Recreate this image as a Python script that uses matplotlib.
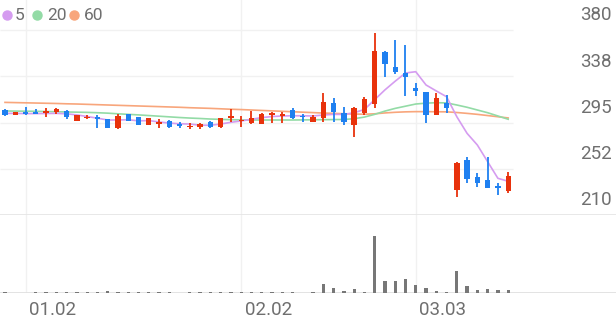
import matplotlib
matplotlib.use('Agg')
import matplotlib.pyplot as plt
from matplotlib.lines import Line2D
import numpy as np

# daily candles (open, high, low, close)
opens = [306.5, 302.2, 304.4, 304.4, 303.5, 304.4, 305.6, 296.4, 299.0, 300.0,
         298.2, 289.7, 302.5, 300.3, 292.7, 293.3, 296.4, 293.6, 290.9, 290.6,
         295.8, 291.1, 298.9, 296.4, 294.3, 293.9, 301.9, 301.2, 306.5, 301.2,
         295.8, 299.4, 313.2, 303.4, 292.7, 303.4, 312.0, 360.0, 346.3, 340.2,
         326.4, 323.3, 301.9, 313.2, 233.0, 260.5, 244.6, 242.2, 236.6, 232.3]
highs = [307.1, 304.8, 309.5, 307.4, 308.0, 308.0, 306.5, 302.0, 301.9, 301.9,
         298.5, 302.5, 303.0, 300.5, 299.2, 298.2, 297.3, 295.2, 294.3, 294.3,
         296.7, 299.5, 307.4, 301.0, 305.6, 303.4, 305.0, 304.3, 308.0, 302.5,
         301.9, 321.8, 317.8, 309.5, 309.5, 318.7, 377.0, 360.7, 370.8, 366.2,
         331.0, 323.5, 321.8, 320.3, 259.0, 263.6, 248.9, 263.6, 239.1, 249.8]
lows = [301.2, 302.0, 302.0, 302.4, 299.8, 302.8, 298.2, 296.0, 298.3, 289.7,
        289.5, 288.7, 296.0, 292.5, 292.5, 289.7, 289.7, 289.7, 288.7, 288.7,
        290.3, 289.7, 295.8, 291.1, 294.0, 293.3, 294.3, 294.3, 297.9, 295.8,
        295.2, 295.8, 295.8, 292.7, 282.0, 301.9, 308.3, 337.0, 339.6, 319.3,
        319.3, 294.8, 301.5, 303.4, 226.8, 239.7, 236.0, 234.5, 228.4, 229.9]
closes = [302.0, 304.4, 302.5, 302.6, 305.6, 307.1, 299.8, 301.9, 300.0, 298.0,
          289.7, 301.2, 296.4, 292.7, 298.9, 295.2, 290.6, 291.8, 291.8, 293.6,
          291.1, 298.9, 301.0, 297.3, 298.9, 302.5, 304.0, 302.5, 299.4, 299.8,
          300.3, 314.1, 304.4, 295.8, 308.0, 316.6, 360.7, 348.5, 341.1, 336.5,
          324.2, 301.9, 317.2, 308.6, 257.5, 243.0, 239.1, 235.1, 235.1, 246.1]
volumes = [3, 1.5, 1.5, 2, 2, 2, 2, 2, 2, 4,
           6, 4, 3, 4, 2, 2, 4, 1, 3, 3,
           3, 3, 4, 3, 3, 3, 3, 3, 3, 1,
           4, 27, 15, 6, 12, 4, 171, 35, 35, 43,
           24, 15, 5, 4, 66, 22, 10, 11, 8, 10]

# moving averages
ma5 = [303.4, 303.4, 303.2, 303.2, 303.3, 303.4, 303.0, 302.0, 300.5, 299.0,
       297.3, 297.3, 297.6, 296.5, 296.8, 295.5, 294.5, 293.8, 293.6, 292.5,
       292.5, 293.6, 295.2, 296.4, 298.0, 299.5, 300.5, 301.0, 301.2, 301.2,
       301.0, 301.9, 302.5, 302.4, 304.0, 307.0, 316.0, 325.0, 333.0, 340.5,
       341.7, 329.5, 324.0, 318.7, 300.3, 285.0, 274.3, 259.0, 243.7, 241.0]
ma20 = [305.6, 305.5, 305.4, 305.3, 305.1, 304.9, 304.7, 304.5, 304.3, 304.0,
        303.6, 303.0, 302.5, 302.0, 301.4, 300.8, 300.2, 299.6, 299.1, 298.7,
        298.2, 297.9, 297.6, 297.4, 297.3, 297.3, 297.3, 297.3, 297.3, 297.4,
        297.5, 297.6, 297.7, 297.8, 298.5, 300.0, 302.5, 305.5, 308.0, 310.0,
        312.0, 312.8, 313.2, 313.0, 311.1, 309.0, 306.5, 304.0, 301.0, 298.0]
ma60 = [313.5, 313.3, 313.1, 312.9, 312.7, 312.5, 312.2, 312.0, 311.7, 311.4,
        311.1, 310.8, 310.5, 310.2, 309.9, 309.6, 309.3, 309.0, 308.6, 308.3,
        308.0, 307.6, 307.2, 306.9, 306.5, 306.1, 305.7, 305.3, 304.9, 304.5,
        304.1, 303.7, 303.4, 303.1, 302.8, 302.6, 303.0, 303.8, 304.4, 304.8,
        305.0, 305.0, 304.9, 304.8, 304.2, 303.4, 302.5, 301.4, 300.3, 299.2]

date_pos = [2, 23, 40]
date_labels = ['01.02', '02.02', '03.03']
price_ticks = [380, 337.5, 295, 252.5, 210]
price_labels = ['380', '338', '295', '252', '210']

UP, DOWN = '#e8320c', '#1f80f0'
GRID = '#f1f1f1'
TXT = '#6f6f6f'
FONT = 'Roboto'

W, H = 616, 321
fig = plt.figure(figsize=(W / 100, H / 100), dpi=100)
ax = fig.add_axes([0, (H - 215) / H, 1, 215 / H])
axv = fig.add_axes([0, (H - 293) / H, 1, 78 / H])

x = np.arange(len(closes))
xlim = (-0.487, 59.5)
last = len(closes) - 0.5

for a in (ax, axv):
    a.set_xlim(*xlim)
    a.axis('off')
    for p in date_pos:
        a.axvline(p, color=GRID, lw=1, zorder=0)

ax.set_ylim(210, 407.6)
axv.set_ylim(0, 234)

# grid
ax.hlines(price_ticks[:-1], xlim[0], last, color=GRID, lw=1, zorder=0)
ax.axhline(210, color='#e4e4e4', lw=1.2, zorder=0)
axv.axhline(0, color='#dedede', lw=1.2, zorder=0)

# moving averages
ax.plot(x, ma60, color='#f8a67c', lw=1.2, zorder=1)
ax.plot(x, ma20, color='#93dba6', lw=1.2, zorder=1)
ax.plot(x, ma5, color='#d59cf0', lw=1.2, zorder=1)

# candles
o, c = np.array(opens), np.array(closes)
colors = [UP if cc >= oo else DOWN for oo, cc in zip(o, c)]
ax.vlines(x, lows, highs, color=colors, lw=1.3, zorder=2)
body_h = np.maximum(np.abs(c - o), 0.9)
ax.bar(x, body_h, bottom=np.minimum(o, c), width=0.52, color=colors,
       linewidth=0, zorder=3)

# volume
axv.bar(x, volumes, width=0.32, color='#777777', linewidth=0)

# price labels on the right
for v, lab in zip(price_ticks, price_labels):
    ax.annotate(lab, xy=(612 / W, v), xycoords=('figure fraction', 'data'),
                xytext=(0, 4), textcoords='offset points', ha='right',
                va='bottom', fontsize=13.5, color=TXT, family=FONT)

# date labels
for p, lab in zip(date_pos, date_labels):
    axv.annotate(lab, xy=(p, 0), xycoords='data', xytext=(2.5, -6),
                 textcoords='offset points', ha='left', va='top',
                 fontsize=13.5, color=TXT, family=FONT)

# legend
legend = [('5', '#d59cf0', 7, 15), ('20', '#93dba6', 37, 47), ('60', '#f8a67c', 74, 84)]
for lab, col, dx, tx in legend:
    fig.add_artist(Line2D([dx / W], [(H - 15) / H], marker='o', ms=6.5,
                          color=col, transform=fig.transFigure))
    fig.text(tx / W, (H - 15) / H, lab, ha='left', va='center',
             fontsize=12.5, color=TXT, family=FONT)

plt.savefig('out.png', dpi=100)
